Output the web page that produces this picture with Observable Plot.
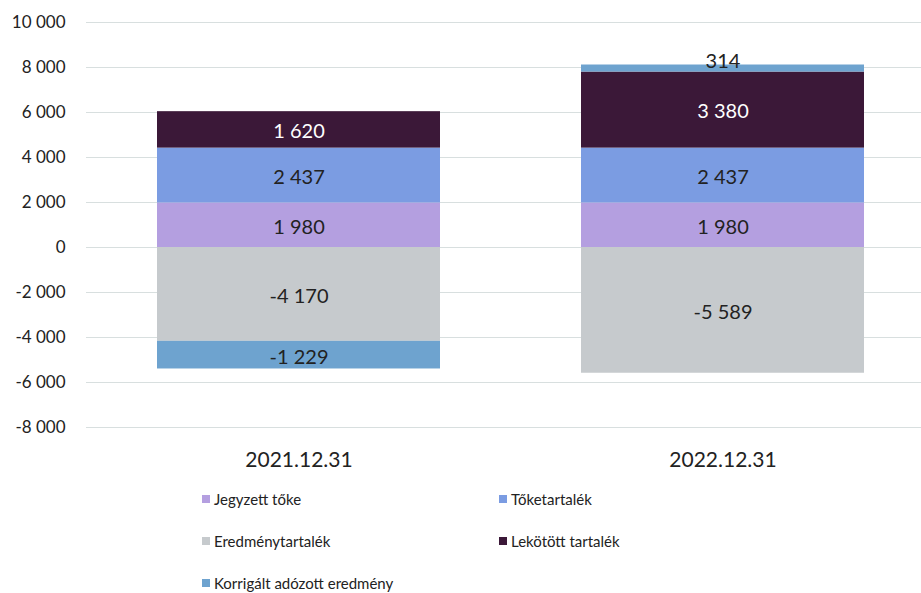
<!DOCTYPE html>
<html>
<head>
<meta charset="utf-8">
<script src="https://cdn.jsdelivr.net/npm/d3@7"></script>
<script src="https://cdn.jsdelivr.net/npm/@observablehq/plot@0.6"></script>
<style>
  body { margin: 0; background: #fff; font-family: Lato, "Open Sans", sans-serif; }
  #chart { width: 921px; }
  .legend { position: relative; height: 113px; font-size: 15px; color: #222; }
  .item { position: absolute; display: flex; align-items: center; }
  .sw { width: 8px; height: 8px; margin-right: 4px; }
</style>
</head>
<body>
<div id="chart"></div>
<script>
const dates = ["2021.12.31", "2022.12.31"];
const series = ["Jegyzett tőke", "Tőketartalék", "Eredménytartalék", "Lekötött tartalék", "Korrigált adózott eredmény"];
const colors = ["#b49fe0", "#7b9ce2", "#c6cacd", "#3b1838", "#6ea3cf"];
const values2021 = [1980, 2437, -4170, 1620, -1229];
const values2022 = [1980, 2437, -5589, 3380, 314];
const yTicks = [-8000, -6000, -4000, -2000, 0, 2000, 4000, 6000, 8000, 10000];

const data = [];
series.forEach((s, i) => {
  data.push({date: dates[0], series: s, value: values2021[i]});
  data.push({date: dates[1], series: s, value: values2022[i]});
});

const loc = d3.formatLocale({decimal: ",", thousands: "\u00a0", grouping: [3], minus: "-"});
const fmt = loc.format(",");

const plot = Plot.plot({
  width: 921,
  height: 480,
  marginTop: 22,
  marginBottom: 53,
  marginLeft: 86,
  marginRight: 0,
  style: {fontFamily: "Lato, 'Open Sans', sans-serif", background: "#fff"},
  x: {domain: dates, paddingInner: 0.333, paddingOuter: 0.151, align: 0.555, label: null, tickSize: 0, tickPadding: 25},
  y: {domain: [-8000, 10000], ticks: yTicks, label: null, tickSize: 0, tickPadding: 21, tickFormat: fmt},
  color: {domain: series, range: colors},
  marks: [
    Plot.ruleY(yTicks, {stroke: "#d8dfdf", strokeWidth: 1.2}),
    Plot.barY(data, Plot.stackY({x: "date", y: "value", z: "series", fill: "series", order: series})),
    Plot.text(data, Plot.stackY({x: "date", y: "value", z: "series", order: series,
      text: d => (d.series === "Korrigált adózott eredmény" && d.value > 0) ? "" : fmt(d.value),
      fill: d => d.series === "Lekötött tartalék" ? "#ffffff" : "#222222",
      fontSize: 20, dy: 2})),
    Plot.text(data, Plot.stackY({x: "date", y: "value", z: "series", order: series,
      text: d => (d.series === "Korrigált adózott eredmény" && d.value > 0) ? fmt(d.value) : "",
      fill: "#222222", fontSize: 20, dy: -7}))
  ]
});
plot.querySelectorAll("[aria-label='y-axis tick label']").forEach(g => { g.style.fontSize = "17px"; g.style.fill = "#222"; });
plot.querySelectorAll("[aria-label='x-axis tick label']").forEach(g => { g.style.fontSize = "21px"; g.style.fill = "#222"; });
document.getElementById("chart").appendChild(plot);

const legend = document.createElement("div");
legend.className = "legend";
const pos = [[202, 20], [499, 20], [202, 62], [499, 62], [202, 104]];
series.forEach((s, i) => {
  const it = document.createElement("div");
  it.className = "item";
  it.style.left = pos[i][0] + "px";
  it.style.top = (pos[i][1] - 10) + "px";
  const sw = document.createElement("span");
  sw.className = "sw";
  sw.style.background = colors[i];
  const tx = document.createElement("span");
  tx.textContent = s;
  it.appendChild(sw); it.appendChild(tx);
  legend.appendChild(it);
});
document.getElementById("chart").appendChild(legend);
</script>
</body>
</html>
